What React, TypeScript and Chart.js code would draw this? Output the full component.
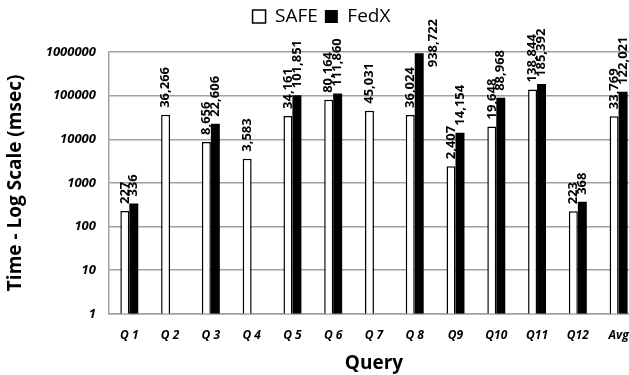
import React, { useEffect, useRef } from "react";
import { Chart, registerables } from "chart.js";

Chart.register(...registerables);

const categories = ["Q 1", "Q 2", "Q 3", "Q 4", "Q 5", "Q 6", "Q 7", "Q 8", "Q9", "Q10", "Q11", "Q12", "Avg"];
const safeValues = [227, 36266, 8656, 3583, 34161, 80164, 45031, 36024, 2407, 19648, 138844, 223, 33769];
const fedxValues = [336, null, 22606, null, 101851, 111860, null, 938722, 14154, 88968, 185392, 368, 122021];
const yTickValues = [1, 10, 100, 1000, 10000, 100000, 1000000];

const FONT = '"Open Sans", "DejaVu Sans", sans-serif';

function withCommas(v: number): string {
  return String(v).replace(/\B(?=(\d{3})+(?!\d))/g, ",");
}

const legendSpacePlugin = {
  id: "legendSpace",
  beforeInit(chart: any) {
    const legend = chart.legend;
    if (!legend) return;
    const origFit = legend.fit;
    legend.fit = function () {
      origFit.call(this);
      this.height += 16;
    };
  },
};

const barLabelPlugin = {
  id: "barLabels",
  afterDatasetsDraw(chart: any) {
    const ctx = chart.ctx;
    ctx.save();
    ctx.font = `bold 13px ${FONT}`;
    ctx.fillStyle = "#000";
    const minTop = chart.chartArea.top - 33;
    chart.data.datasets.forEach((ds: any, di: number) => {
      const meta = chart.getDatasetMeta(di);
      meta.data.forEach((bar: any, i: number) => {
        const v = ds.data[i];
        if (v == null) return;
        const text = withCommas(v);
        const w = ctx.measureText(text).width;
        let x = bar.x;
        let y = bar.y - 7;
        if (y - w < minTop) {
          x = bar.x + bar.width / 2 + 10;
          y = minTop + w;
        }
        ctx.save();
        ctx.translate(x, y);
        ctx.rotate(-Math.PI / 2);
        ctx.textAlign = "left";
        ctx.textBaseline = "middle";
        ctx.fillText(text, 0, 0);
        ctx.restore();
      });
    });
    ctx.restore();
  },
};

export default function App() {
  const ref = useRef<HTMLCanvasElement | null>(null);

  useEffect(() => {
    if (!ref.current) return;
    Chart.defaults.font.family = FONT;
    Chart.defaults.color = "#000";
    const chart = new Chart(ref.current, {
      type: "bar",
      data: {
        labels: categories,
        datasets: [
          {
            label: "SAFE",
            data: safeValues,
            backgroundColor: "#ffffff",
            borderColor: "#000000",
            borderWidth: 1.5,
            categoryPercentage: 0.44,
            barPercentage: 1,
          },
          {
            label: "FedX",
            data: fedxValues as any,
            backgroundColor: "#000000",
            borderColor: "#000000",
            borderWidth: 0,
            categoryPercentage: 0.44,
            barPercentage: 1,
          },
        ],
      },
      options: {
        responsive: false,
        devicePixelRatio: 1,
        animation: false,
        layout: { padding: { top: 0, right: 2, left: 4, bottom: 0 } },
        plugins: {
          legend: {
            display: true,
            position: "top",
            labels: {
              boxWidth: 13,
              boxHeight: 13,
              padding: 7,
              font: { size: 19 },
              color: "#000",
            },
          },
          tooltip: { enabled: false },
        },
        scales: {
          x: {
            grid: { display: false },
            border: { display: true, color: "#a0a0a0", width: 1.5 },
            ticks: {
              font: { size: 12, weight: "bold", style: "italic" },
              color: "#000",
              padding: 7,
              maxRotation: 0,
              autoSkip: false,
            },
            title: {
              display: true,
              text: "Query",
              font: { size: 19, weight: "bold" },
              color: "#000",
              padding: { top: 2, bottom: 0 },
            },
          },
          y: {
            type: "logarithmic",
            min: 1,
            max: 1000000,
            afterBuildTicks: (scale: any) => {
              scale.ticks = yTickValues.map((v) => ({ value: v }));
            },
            grid: { color: "#a0a0a0", lineWidth: 1.5, drawTicks: false },
            border: { display: true, color: "#a0a0a0", width: 1.5 },
            ticks: {
              font: { size: 13, weight: "bold", style: "italic" },
              color: "#000",
              padding: 13,
              callback: (v: any) => String(v),
            },
            title: {
              display: true,
              text: "Time - Log Scale (msec)",
              font: { size: 19, weight: "bold" },
              color: "#000",
              padding: { top: 0, bottom: 6 },
            },
          },
        },
      },
      plugins: [legendSpacePlugin, barLabelPlugin],
    });
    return () => chart.destroy();
  }, []);

  return (
    <div style={{ position: "fixed", left: 0, top: 0, width: 629, height: 375, overflow: "hidden", background: "#fff" }}>
      <canvas ref={ref} width={641} height={375} style={{ width: 641, height: 375, display: "block" }} />
    </div>
  );
}
